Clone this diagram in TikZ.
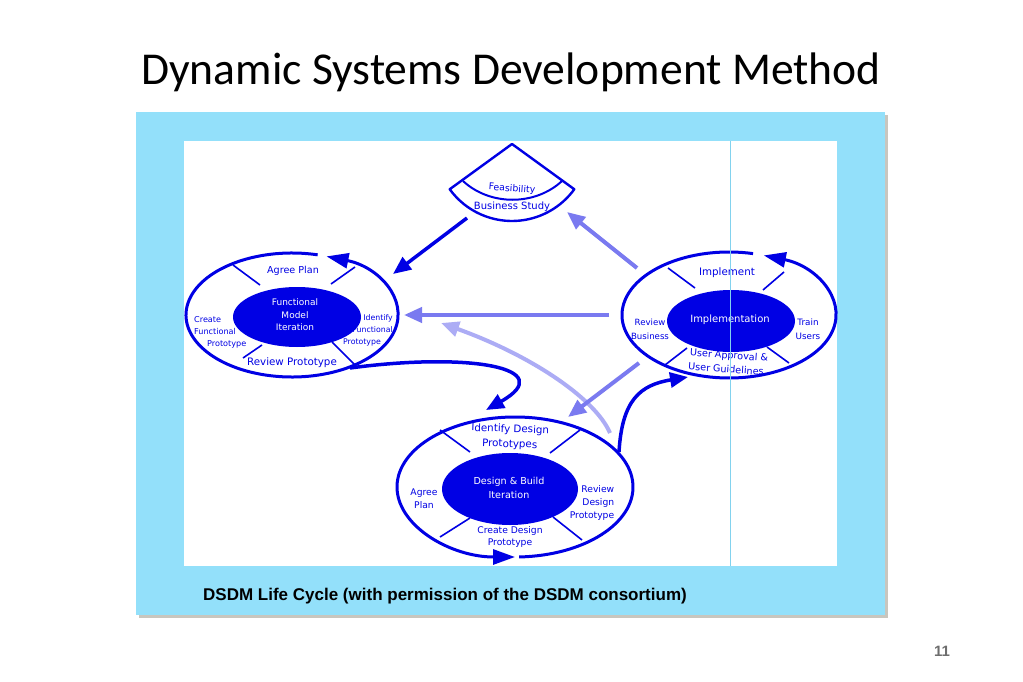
\documentclass[tikz,border=0pt]{standalone}
\usepackage{fontspec}
\setmainfont{Carlito}
\newfontfamily\labfont{DejaVu Sans}
\newfontfamily\capfont{Liberation Sans}
\usetikzlibrary{arrows.meta}
\definecolor{skyb}{RGB}{147,224,250}
\definecolor{dkb}{RGB}{0,0,228}
\definecolor{mdb}{RGB}{122,122,240}
\definecolor{ltb}{RGB}{172,172,245}
\definecolor{vline}{RGB}{130,210,238}
\definecolor{shad}{RGB}{200,198,190}
\definecolor{pgnum}{RGB}{110,110,110}
\begin{document}
\begin{tikzpicture}[x=1pt,y=-1pt,
  lab/.style={font=\labfont\fontsize{9.6}{13}\selectfont, text=dkb, align=center, inner sep=0pt},
  blab/.style={font=\labfont\fontsize{10.3}{15}\selectfont, text=dkb, align=center, inner sep=0pt},
  slab/.style={font=\labfont\fontsize{8.1}{12}\selectfont, text=dkb, inner sep=0pt},
  wlab/.style={font=\labfont\fontsize{9}{12.5}\selectfont, text=white, align=center, inner sep=0pt},
  ring/.style={draw=dkb, line width=3pt},
  spoke/.style={draw=dkb, line width=1.6pt},
  core/.style={fill=dkb},
  ringtip/.style={-{Triangle[length=22pt,width=15pt]}},
  bigtip/.style={-{Triangle[length=18pt,width=15pt]}},
  darkconn/.style={draw=dkb, line width=3.5pt, bigtip},
  medconn/.style={draw=mdb, line width=4pt, -{Triangle[length=18pt,width=15pt]}},
  lightconn/.style={draw=ltb, line width=4pt, -{Triangle[length=18pt,width=15pt]}}
]
\useasboundingbox (0,0) rectangle (1023,682);
\fill[white] (0,0) rectangle (1023,682);

% title
\node[font=\fontsize{45.6}{50}\selectfont, anchor=base] (title) at (511,85) {Dynamic Systems Development Method};

% frame
\fill[shad] (139,115) rectangle (888,618);
\fill[skyb] (136,112) rectangle (885,615);
\fill[white] (184,141) rectangle (837,566);

% Feasibility sector
\draw[draw=dkb, line width=2.4pt, line join=round] (512,144) -- ++(144:77) arc[start angle=144, end angle=36, radius=77] -- cycle;
\draw[draw=dkb, line width=2pt] (463,181) .. controls (490,206) and (535,206) .. (562,181);
\node[lab, font=\labfont\fontsize{9.3}{11}\selectfont, rotate=-4] (feas) at (512,189) {Feasibility};
\node[lab, font=\labfont\fontsize{10}{11}\selectfont] (bus) at (512,207) {Business Study};

% Functional Model ellipse
\draw[ring, ringtip] (292,315) ++(-76:106 and 62) arc[start angle=-76, end angle=-431, x radius=106, y radius=62];
\fill[core] (297,317) ellipse[x radius=64, y radius=30];
\draw[spoke] (260,285) -- (233,265);
\draw[spoke] (331,284) -- (355,267);
\draw[spoke] (262,345) -- (243,358);
\draw[spoke] (332,342) -- (355,365);
\node[wlab] (fmi) at (295,315) {Functional\\Model\\Iteration};
\node[lab] (fap) at (293,271) {Agree Plan};
\node[blab] (frp) at (292,363) {Review Prototype};
\node[slab, align=left, anchor=north west] (fcp) at (194,316) {Create\\Functional\\\hspace*{13pt}Prototype};
\node[slab, align=right, anchor=north east, font=\labfont\fontsize{7.8}{12}\selectfont] (fip) at (393,314) {Identify\\Functional\\Prototype\hspace*{12pt}};

% Implementation ellipse
\draw[ring, ringtip] (729,315) ++(-77:107 and 63) arc[start angle=-77, end angle=-431, x radius=107, y radius=63];
\fill[core] (731,321) ellipse[x radius=64, y radius=31];
\draw[spoke] (695,288) -- (668,268);
\draw[spoke] (763,290) -- (784,272);
\draw[spoke] (687,348) -- (665,365);
\draw[spoke] (767,347) -- (789,363);
\node[wlab, font=\labfont\fontsize{10}{12}\selectfont] (imp) at (730,320) {Implementation};
\node[blab] (impl) at (727,273) {Implement};
\node[lab, font=\labfont\fontsize{8.6}{14}\selectfont] (rb) at (650,329) {Review\\Business};
\node[lab, font=\labfont\fontsize{8.8}{14}\selectfont] (tu) at (808,329) {Train\\Users};
\node[lab, rotate=-4] (ua) at (729,356) {User Approval \&};
\node[lab, rotate=-4] (ug) at (726,369) {User Guidelines};

% Design & Build ellipse
\draw[ring, ringtip] (515,487) ++(-272:118 and 70) arc[start angle=-272, end angle=-630, x radius=118, y radius=70];
\fill[core] (510,489) ellipse[x radius=68, y radius=36];
\draw[spoke] (470,452) -- (440,430);
\draw[spoke] (550,453) -- (580,430);
\draw[spoke] (470,518) -- (440,537);
\draw[spoke] (553,517) -- (582,540);
\node[wlab, font=\labfont\fontsize{9.6}{14}\selectfont] (dbi) at (509,488) {Design \& Build\\Iteration};
\node[blab, rotate=-2] (idp) at (510,437) {Identify Design\\Prototypes};
\node[lab, font=\labfont\fontsize{9.2}{13}\selectfont] (dap) at (424,499) {Agree\\Plan};
\node[lab, align=right, font=\labfont\fontsize{9.2}{13}\selectfont] (rdp) at (592,503) {Review\\Design\\Prototype};
\node[lab, font=\labfont\fontsize{9.2}{12}\selectfont] (cdp) at (510,537) {Create Design\\Prototype};

% connectors
\coordinate (f1) at (467,218);  \coordinate (fm1) at (393,274);
\coordinate (i1) at (637,268);  \coordinate (fs1) at (567,212);
\coordinate (i2) at (609,315);  \coordinate (fm2) at (404,315);
\coordinate (d1) at (610,433);  \coordinate (fm3) at (441,323);
\coordinate (i3) at (639,363);  \coordinate (d2) at (568,417);
\coordinate (fm4) at (350,368); \coordinate (d3) at (486,410);
\coordinate (d4) at (619,452);  \coordinate (i4) at (688,377);

\draw[darkconn] (f1) -- (fm1);
\draw[medconn] (i1) -- (fs1);
\draw[medconn] (i2) -- (fm2);
\draw[lightconn] (d1) .. controls (595,398) and (530,355) .. (fm3);
\draw[medconn] (i3) -- (d2);
\draw[darkconn] (fm4) .. controls (470,352) and (560,368) .. (d3);
\draw[darkconn] (d4) .. controls (622,400) and (640,385) .. (i4);

% thin vertical line
\draw[vline, line width=1pt] (730,141) -- (730,566);

% caption
\node[anchor=base west, inner sep=0pt, font=\capfont\bfseries\fontsize{17}{20}\selectfont] (cap) at (203,600) {DSDM Life Cycle (with permission of the DSDM consortium)};

% page number
\node[font=\capfont\bfseries\fontsize{15}{17}\selectfont, text=pgnum] (pg) at (942,651) {11};
\end{tikzpicture}
\end{document}
